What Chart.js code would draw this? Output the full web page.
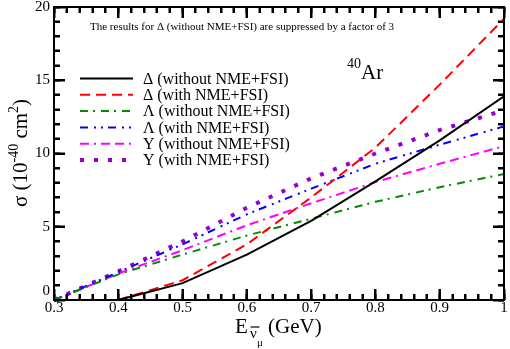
<!DOCTYPE html>
<html><head><meta charset="utf-8">
<script src="https://cdn.jsdelivr.net/npm/chart.js@4/dist/chart.umd.min.js"></script>
<style>html,body{margin:0;padding:0;background:#fff}#wrap{width:510px;height:349px}</style>
</head><body><div id="wrap"><canvas id="c" width="510" height="349"></canvas></div>
<script>
// ---- data ----
const energiesDelta = [0.4, 0.5, 0.6, 0.7, 0.8, 0.9, 1.0];
const energiesHyperon = [0.3, 0.4, 0.5, 0.6, 0.7, 0.8, 0.9, 1.0];
const deltaWithout = [0, 1.15, 3.1, 5.4, 8.1, 10.9, 13.9];
const deltaWith = [0, 1.35, 3.8, 7.0, 10.4, 14.7, 19.2];
const lambdaWithout = [0, 1.75, 3.1, 4.4, 5.55, 6.7, 7.7, 8.6];
const lambdaWith = [0, 1.9, 3.8, 5.85, 7.6, 9.3, 10.6, 11.85];
const sigmaWithout = [0, 1.8, 3.4, 5.1, 6.6, 8.05, 9.3, 10.5];
const sigmaWith = [0, 1.95, 4.0, 6.3, 8.3, 10.0, 11.6, 12.95];
const seriesLabels = ['\u0394 (without NME+FSI)', '\u0394 (with NME+FSI)', '\u039B (without NME+FSI)',
  '\u039B (with NME+FSI)', 'Y (without NME+FSI)', 'Y (with NME+FSI)'];
const xTickValues = [0.3, 0.4, 0.5, 0.6, 0.7, 0.8, 0.9, 1.0];
const xTickLabels = ['0.3', '0.4', '0.5', '0.6', '0.7', '0.8', '0.9', '1'];
const yTickValues = [0, 5, 10, 15, 20];
const yTickLabels = ['0', '5', '10', '15', '20'];
const noteText = 'The results for \u0394 (without NME+FSI) are suppressed by a factor of 3';

const SERIF = '"Liberation Serif", "Times New Roman", serif';
const pts = (xs, ys) => xs.map((x, i) => ({x: x, y: ys[i]}));

const styles = [
  {c: '#000000', w: 2, d: []},
  {c: '#ff0000', w: 2, d: [10, 6]},
  {c: '#008c00', w: 2, d: [8, 5, 2, 6]},
  {c: '#0000ff', w: 2, d: [8, 6, 2, 5, 2, 5]},
  {c: '#ff00ff', w: 2, d: [9, 5, 2, 5, 9, 5]},
  {c: '#9400d3', w: 4, d: [4, 10]}
];
const seriesData = [
  pts(energiesDelta, deltaWithout), pts(energiesDelta, deltaWith),
  pts(energiesHyperon, lambdaWithout), pts(energiesHyperon, lambdaWith),
  pts(energiesHyperon, sigmaWithout), pts(energiesHyperon, sigmaWith)
];
const datasets = seriesData.map((d, i) => ({
  label: seriesLabels[i], data: d, borderColor: styles[i].c, backgroundColor: styles[i].c,
  borderWidth: styles[i].w, borderDash: styles[i].d, pointRadius: 0, tension: 0, fill: false,
  borderCapStyle: 'butt', xAxisID: 'x', yAxisID: 'y'
}));

function near(v, list) { return list.findIndex(t => Math.abs(t - v) < 1e-6); }

function drawRich(ctx, parts, x, y, align) {
  let total = 0;
  parts.forEach(p => { ctx.font = p.s + 'px ' + SERIF; p.w = ctx.measureText(p.t).width; total += p.w; });
  let cx = align === 'center' ? x - total / 2 : x;
  ctx.textAlign = 'left';
  ctx.textBaseline = 'alphabetic';
  parts.forEach(p => { ctx.font = p.s + 'px ' + SERIF; ctx.fillText(p.t, cx, y - (p.r || 0)); cx += p.w; });
}

// tick-only axes (ticks drawn inward by Chart.js with a negative tick length)
function tickAxis(position, min, max, step, len, weight) {
  const horizontal = position === 'top' || position === 'bottom';
  return {
    type: 'linear', position: position, min: min, max: max, weight: weight,
    grid: {display: true, drawOnChartArea: false, drawTicks: true, tickLength: -len, tickWidth: 2, tickColor: '#000'},
    border: {display: false},
    ticks: {display: false, stepSize: step, autoSkip: false},
    afterFit(s) {
      if (horizontal) s.height = 0; else s.width = 0;
      s.paddingLeft = 0; s.paddingRight = 0; s.paddingTop = 0; s.paddingBottom = 0;
    }
  };
}

const decor = {
  id: 'decor',
  afterDraw(chart) {
    const ctx = chart.ctx, a = chart.chartArea;
    const L = Math.round(a.left), R = Math.round(a.right), T = Math.round(a.top), B = Math.round(a.bottom);
    ctx.save();
    ctx.setLineDash([]);

    // legend
    const lx0 = 80, lx1 = 133, ly0 = 78.5, dy = 16.3;
    chart.data.datasets.forEach((ds, i) => {
      const y = ly0 + i * dy;
      ctx.beginPath();
      ctx.strokeStyle = ds.borderColor;
      ctx.lineWidth = ds.borderWidth;
      ctx.setLineDash(ds.borderDash);
      ctx.moveTo(lx0, y); ctx.lineTo(lx1, y);
      ctx.stroke();
      ctx.setLineDash([]);
      ctx.fillStyle = '#000';
      ctx.font = '16px ' + SERIF;
      ctx.textAlign = 'left';
      ctx.textBaseline = 'middle';
      ctx.fillText(ds.label, 143, y + 1);
    });

    ctx.fillStyle = '#000';
    ctx.font = '11px ' + SERIF;
    ctx.textAlign = 'left';
    ctx.textBaseline = 'middle';
    ctx.fillText(noteText, 90, 27.5);
    drawRich(ctx, [{t: '40', s: 14, r: 11}, {t: 'Ar', s: 21}], 347, 79, 'left');

    ctx.textBaseline = 'alphabetic';
    ctx.font = '21px ' + SERIF;
    ctx.fillText('E', 235, 333);
    ctx.font = '15px ' + SERIF;
    ctx.fillText('\u03BD', 250, 338);
    ctx.lineWidth = 1.2;
    ctx.strokeStyle = '#000';
    ctx.beginPath(); ctx.moveTo(250.5, 327); ctx.lineTo(259.5, 327); ctx.stroke();
    ctx.font = '11px ' + SERIF;
    ctx.fillText('\u03BC', 257, 346);
    ctx.font = '21px ' + SERIF;
    ctx.fillText('(GeV)', 268, 333);

    ctx.save();
    ctx.translate(27, 153);
    ctx.rotate(-Math.PI / 2);
    drawRich(ctx, [{t: '\u03C3 (10', s: 21}, {t: '-40', s: 14, r: 9}, {t: ' cm', s: 21}, {t: '2', s: 14, r: 9}, {t: ')', s: 21}], 0, 0, 'center');
    ctx.restore();

    // inward ticks again from every scale's own ticks (reinforces the library-drawn ones)
    ctx.fillStyle = '#000000';
    Object.values(chart.scales).forEach(s => {
      const len = -s.options.grid.tickLength;
      if (!(len > 0)) return;
      s.ticks.forEach(t => {
        const p = Math.round(s.getPixelForValue(t.value));
        if (s.position === 'bottom') ctx.fillRect(p - 1, B - len, 2, len);
        else if (s.position === 'top') ctx.fillRect(p - 1, T, 2, len);
        else if (s.position === 'left') ctx.fillRect(L, p - 1, len, 2);
        else if (s.position === 'right') ctx.fillRect(R - len, p - 1, len, 2);
      });
    });

    // frame
    ctx.fillRect(L - 1, T - 1, R - L + 2, 2);
    ctx.fillRect(L - 1, B - 1, R - L + 2, 2);
    ctx.fillRect(L - 1, T - 1, 2, B - T + 2);
    ctx.fillRect(R - 1, T - 1, 2, B - T + 2);
    ctx.restore();
  }
};

const scales = {
  x: {
    type: 'linear', position: 'bottom', min: 0.3, max: 1.0, weight: 0,
    grid: {display: true, drawOnChartArea: false, drawTicks: true, tickLength: -11, tickWidth: 2, tickColor: '#000'},
    border: {display: false},
    ticks: {
      stepSize: 0.1, autoSkip: false, maxRotation: 0, minRotation: 0, padding: 10,
      color: '#000', font: {family: SERIF, size: 15},
      callback: v => { const k = near(v, xTickValues); return k >= 0 ? xTickLabels[k] : ''; }
    },
    afterFit(s) { s.height = 49; s.paddingLeft = 0; s.paddingRight = 0; s.paddingTop = 0; s.paddingBottom = 0; }
  },
  y: {
    type: 'linear', position: 'left', min: 0, max: 20, weight: 0,
    grid: {display: true, drawOnChartArea: false, drawTicks: true, tickLength: -11, tickWidth: 2, tickColor: '#000'},
    border: {display: false},
    ticks: {
      stepSize: 5, autoSkip: false, padding: 15, color: '#000', font: {family: SERIF, size: 15, lineHeight: 1.2},
      callback: v => { const k = near(v, yTickValues); if (k < 0) return ''; return v === 0 ? [yTickLabels[k], ''] : yTickLabels[k]; }
    },
    afterFit(s) { s.width = 54; s.paddingLeft = 0; s.paddingRight = 0; s.paddingTop = 0; s.paddingBottom = 0; }
  },
  xMinor: tickAxis('bottom', 0.3, 1.0, 0.02, 6, -1),
  xTop: tickAxis('top', 0.3, 1.0, 0.1, 11, 0),
  xTopMinor: tickAxis('top', 0.3, 1.0, 0.02, 6, -1),
  yMinor: tickAxis('left', 0, 20, 1, 6, -1),
  yRight: tickAxis('right', 0, 20, 5, 11, 0),
  yRightMinor: tickAxis('right', 0, 20, 1, 6, -1)
};

new Chart(document.getElementById('c'), {
  type: 'line',
  data: {datasets: datasets},
  options: {
    responsive: false, animation: false, devicePixelRatio: 1,
    layout: {padding: {top: 7, right: 6, left: 0, bottom: 0}},
    plugins: {legend: {display: false}, tooltip: {enabled: false}},
    scales: scales
  },
  plugins: [decor]
});
</script></body></html>
